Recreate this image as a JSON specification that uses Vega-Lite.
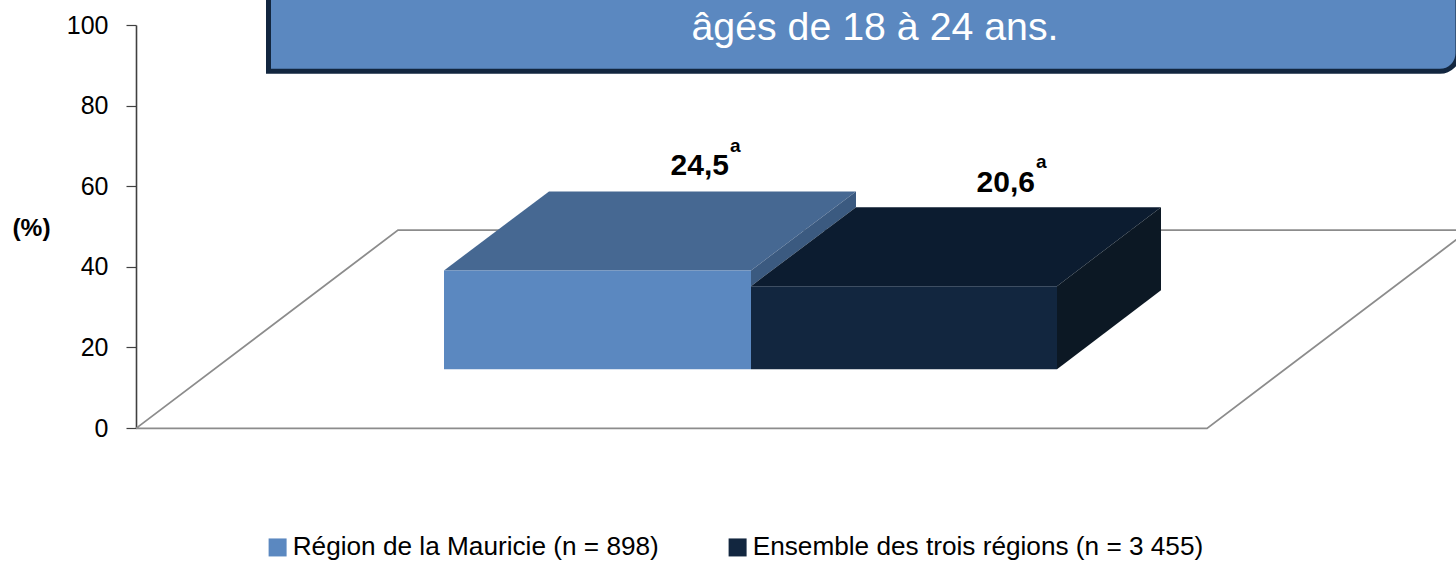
{
"$schema":"https://vega.github.io/schema/vega-lite/v6.json",
"width":1320,"height":403,
"autosize":{"type":"none"},
"padding":{"left":136,"top":25,"right":0,"bottom":134},
"background":"white",
"config":{"view":{"stroke":null},"font":"Liberation Sans"},
"datasets":{
"floor":[{"s":1,"x":0,"y":-0.1},{"s":2,"x":1071,"y":-0.1},{"s":3,"x":1333,"y":49.1},{"s":4,"x":262,"y":49.1},{"s":5,"x":0,"y":-0.1}],
"box":[{"x":132.5,"x2":1322,"y":113.6,"y2":88.5,"t":"âgés de 18 à 24 ans.","tx":739,"ty":96.2}],
"front":[
{"series":"Région de la Mauricie (n = 898)","x":308,"x2":615,"base":14.6,"top":39.1},
{"series":"Ensemble des trois régions (n = 3 455)","x":615,"x2":921,"base":14.6,"top":35.2}],
"lightTop":[{"y":39.1,"x":308,"x2":615},{"y":58.7,"x":413,"x2":720}],
"lightSide":[{"x":615,"y":35.2,"y2":39.1},{"x":720,"y":54.8,"y2":58.7}],
"darkTop":[{"y":35.2,"x":615,"x2":921},{"y":54.8,"x":720,"x2":1025}],
"darkSide":[{"x":921,"y":14.6,"y2":35.2},{"x":1025,"y":34.2,"y2":54.8}],
"labels":[{"t":"24,5","x":593,"y":62.7,"sx":594,"sy":68.6},{"t":"20,6","x":899,"y":58.6,"sx":900,"sy":64.6}]
},
"layer":[
{"data":{"name":"floor"},"mark":{"type":"line","color":"#8c8c8c","strokeWidth":1.8,"clip":false},
 "encoding":{"x":{"field":"x","type":"quantitative","scale":{"domain":[0,1320],"nice":false,"zero":false},"axis":null},
 "y":{"field":"y","type":"quantitative","scale":{"domain":[0,100],"nice":false},
 "axis":{"values":[0,20,40,60,80,100],"grid":false,"title":"(%)","titleAngle":0,"titleFontSize":24.5,"titleFontWeight":"bold","titleColor":"#000","titleFont":"Liberation Sans","titleX":-105,"titleY":215,"titleAlign":"center","titleBaseline":"bottom","labelFontSize":25,"labelColor":"#000","labelFont":"Liberation Sans","labelPadding":18,"tickSize":10,"tickColor":"#404040","tickWidth":1.2,"domainColor":"#404040","domainWidth":1.6}},
 "order":{"field":"s","type":"quantitative"}}},
{"data":{"name":"box"},"mark":{"type":"rect","fill":"#5b88c0","stroke":"#12263f","strokeWidth":5,"cornerRadiusBottomRight":18,"clip":false},
 "encoding":{"x":{"field":"x","type":"quantitative"},"x2":{"field":"x2"},"y":{"field":"y","type":"quantitative"},"y2":{"field":"y2"}}},
{"data":{"name":"box"},"mark":{"type":"text","color":"#ffffff","fontSize":39.3,"align":"center","baseline":"alphabetic"},
 "encoding":{"x":{"field":"tx","type":"quantitative"},"y":{"field":"ty","type":"quantitative"},"text":{"field":"t"}}},
{"data":{"name":"lightTop"},"mark":{"type":"area","orient":"horizontal","color":"#466892","clip":false},
 "encoding":{"x":{"field":"x","type":"quantitative","stack":null},"x2":{"field":"x2"},"y":{"field":"y","type":"quantitative"}}},
{"data":{"name":"lightSide"},"mark":{"type":"area","orient":"vertical","color":"#3b5a80"},
 "encoding":{"x":{"field":"x","type":"quantitative"},"y":{"field":"y","type":"quantitative","stack":null},"y2":{"field":"y2"}}},
{"data":{"name":"darkTop"},"mark":{"type":"area","orient":"horizontal","color":"#0c1c30"},
 "encoding":{"x":{"field":"x","type":"quantitative","stack":null},"x2":{"field":"x2"},"y":{"field":"y","type":"quantitative"}}},
{"data":{"name":"darkSide"},"mark":{"type":"area","orient":"vertical","color":"#0c1824"},
 "encoding":{"x":{"field":"x","type":"quantitative"},"y":{"field":"y","type":"quantitative","stack":null},"y2":{"field":"y2"}}},
{"data":{"name":"front"},"mark":{"type":"rect"},
 "encoding":{"x":{"field":"x","type":"quantitative"},"x2":{"field":"x2"},"y":{"field":"base","type":"quantitative"},"y2":{"field":"top"},
 "color":{"field":"series","type":"nominal","scale":{"domain":["Région de la Mauricie (n = 898)","Ensemble des trois régions (n = 3 455)"],"range":["#5b88c0","#12263f"]},
 "legend":{"orient":"none","legendX":128.5,"legendY":509,"direction":"horizontal","title":null,"columns":2,"symbolType":"square","symbolSize":324,"symbolStrokeWidth":0,"symbolOpacity":1,"labelFontSize":26.2,"labelColor":"#000","labelFont":"Liberation Sans","labelLimit":600,"columnPadding":65,"labelOffset":2}}}},
{"data":{"name":"labels"},"mark":{"type":"text","fontSize":30,"fontWeight":"bold","color":"#000","align":"right","baseline":"alphabetic"},
 "encoding":{"x":{"field":"x","type":"quantitative"},"y":{"field":"y","type":"quantitative"},"text":{"field":"t"}}},
{"data":{"name":"labels"},"mark":{"type":"text","fontSize":19,"fontWeight":"bold","color":"#000","align":"left","baseline":"alphabetic"},
 "encoding":{"x":{"field":"sx","type":"quantitative"},"y":{"field":"sy","type":"quantitative"},"text":{"value":"a"}}}
]
}
